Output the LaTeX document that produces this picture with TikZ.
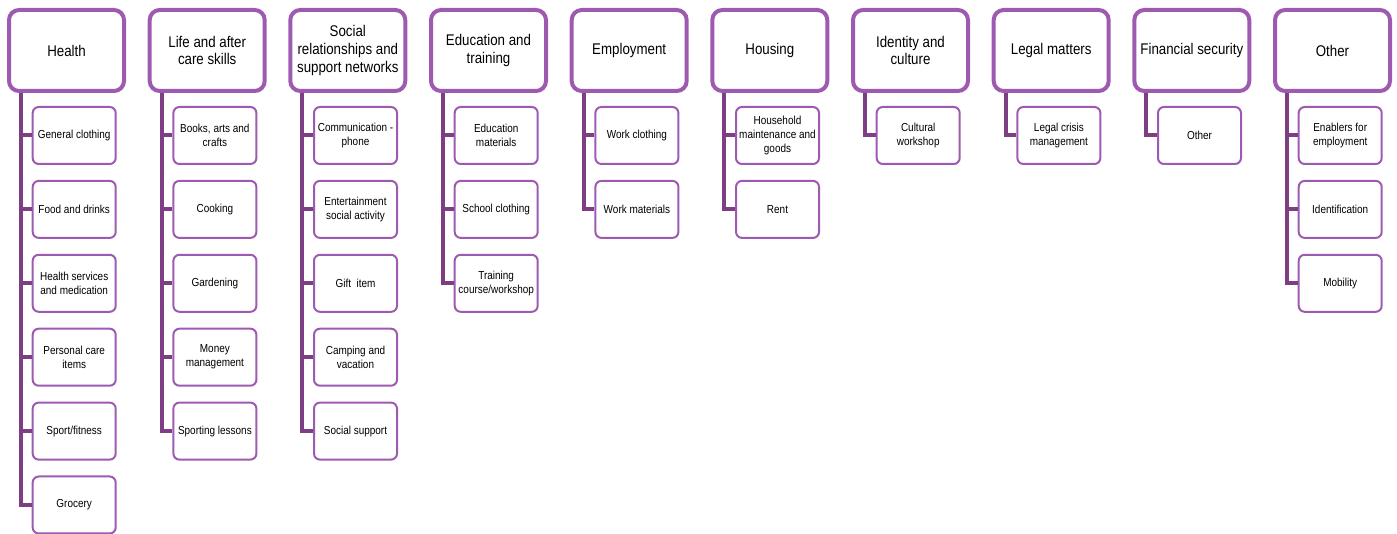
\documentclass[tikz,border=0pt]{standalone}
\usepackage{fontspec}
\setmainfont{Liberation Sans}[FakeStretch=0.86]
\usepackage{tikz}

\definecolor{boxpurple}{RGB}{158,90,176}
\definecolor{linkpurple}{RGB}{126,62,132}

\begin{document}
\begin{tikzpicture}[x=0.75pt,y=0.75pt,yscale=-1,xscale=1,
  catbox/.style={draw=boxpurple,line width=3pt,rounded corners=7.5pt,fill=white,
    minimum width=86.25pt,minimum height=60.75pt,align=center,inner sep=1pt,
    font=\fontsize{11.6}{13.4}\selectfont},
  subbox/.style={draw=boxpurple,line width=1.5pt,rounded corners=4.5pt,fill=white,
    minimum width=62.25pt,minimum height=42.75pt,align=center,inner sep=1pt,
    font=\fontsize{8.7}{10.5}\selectfont},
  link/.style={draw=linkpurple,line width=3pt}]
%set diagram size to the 1397 x 534 frame
\useasboundingbox (0,0) rectangle (1397,534);

%Header Nodes
\node [catbox] (health) at (66.5,50.5) {Health};
\node [catbox] (life) at (207.2,50.5) {Life and after\\care skills};
\node [catbox] (social) at (347.8,50.5) {Social\\relationships and\\support networks};
\node [catbox] (educ) at (488.5,50.5) {Education and\\training};
\node [catbox] (employ) at (629.2,50.5) {Employment};
\node [catbox] (housing) at (769.8,50.5) {Housing};
\node [catbox] (ident) at (910.5,50.5) {Identity and\\culture};
\node [catbox] (legal) at (1051.2,50.5) {Legal matters};
\node [catbox] (finance) at (1191.8,50.5) {Financial security};
\node [catbox] (other) at (1332.5,50.5) {Other};

%Health
\node [subbox] (health1) at (74.2,135.5) {General clothing};
\node [subbox] (health2) at (74.2,209.4) {Food and drinks};
\node [subbox] (health3) at (74.2,283.3) {Health services\\and medication};
\node [subbox] (health4) at (74.2,357.2) {Personal care\\items};
\node [subbox] (health5) at (74.2,431.1) {Sport/fitness};
\node [subbox] (health6) at (74.2,505) {Grocery};
%Life and after care skills
\node [subbox] (life1) at (214.9,135.5) {Books, arts and\\crafts};
\node [subbox] (life2) at (214.9,209.4) {Cooking};
\node [subbox] (life3) at (214.9,283.3) {Gardening};
\node [subbox] (life4) at (214.9,357.2) {Money\\management};
\node [subbox] (life5) at (214.9,431.1) {Sporting lessons};
%Social relationships
\node [subbox] (social1) at (355.5,135.5) {Communication -\\phone};
\node [subbox] (social2) at (355.5,209.4) {Entertainment\\social activity};
\node [subbox] (social3) at (355.5,283.3) {Gift\ \ item};
\node [subbox] (social4) at (355.5,357.2) {Camping and\\vacation};
\node [subbox] (social5) at (355.5,431.1) {Social support};
%Education and training
\node [subbox] (educ1) at (496.2,135.5) {Education\\materials};
\node [subbox] (educ2) at (496.2,209.4) {School clothing};
\node [subbox] (educ3) at (496.2,283.3) {Training\\course/workshop};
%Employment
\node [subbox] (employ1) at (636.9,135.5) {Work clothing};
\node [subbox] (employ2) at (636.9,209.4) {Work materials};
%Housing
\node [subbox] (housing1) at (777.5,135.5) {Household\\maintenance and\\goods};
\node [subbox] (housing2) at (777.5,209.4) {Rent};
%Identity, legal, financial
\node [subbox] (ident1) at (918.2,135.5) {Cultural\\workshop};
\node [subbox] (legal1) at (1058.9,135.5) {Legal crisis\\management};
\node [subbox] (finance1) at (1199.5,135.5) {Other};
%Other
\node [subbox] (other1) at (1340.2,135.5) {Enablers for\\employment};
\node [subbox] (other2) at (1340.2,209.4) {Identification};
\node [subbox] (other3) at (1340.2,283.3) {Mobility};

%Links
\foreach \h/\c in {health/health1,health/health2,health/health3,health/health4,health/health5,health/health6,
  life/life1,life/life2,life/life3,life/life4,life/life5,
  social/social1,social/social2,social/social3,social/social4,social/social5,
  educ/educ1,educ/educ2,educ/educ3,employ/employ1,employ/employ2,
  housing/housing1,housing/housing2,ident/ident1,legal/legal1,finance/finance1,
  other/other1,other/other2,other/other3}
  \draw [link] ([xshift=10.5pt]\h.south west) |- (\c.west);

\end{tikzpicture}
\end{document}
